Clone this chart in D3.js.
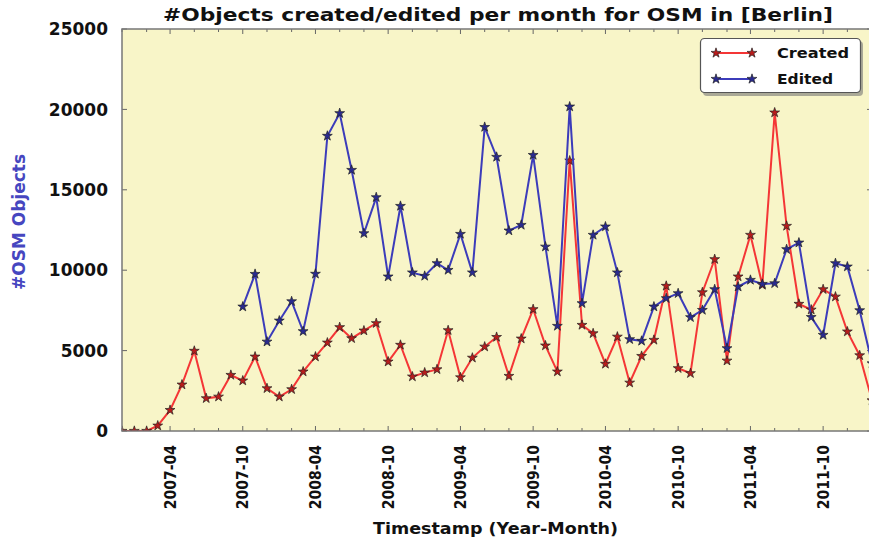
<!DOCTYPE html>
<meta charset="utf-8">
<style>
body { margin: 0; background: #fff; }
text { font-family: "DejaVu Sans", sans-serif; font-weight: bold; fill: #111; }
</style>
<svg width="869" height="543"></svg>
<script src="https://d3js.org/d3.v7.min.js"></script>
<script>

var firstMonth = "2006-12",
    lastMonth = "2012-02";

// monthly counts, 2006-12 .. 2012-02
var created = [0,
    0, 0, 330, 1300, 2880, 4980, 2030, 2130, 3480, 3130, 4620, 2650,
    2130, 2590, 3690, 4620, 5490, 6450, 5760, 6240, 6700, 4310, 5350, 3380,
    3630, 3830, 6260, 3330, 4550, 5240, 5840, 3420, 5740, 7570, 5310, 3690,
    16810, 6590, 6070, 4170, 5860, 3000, 4660, 5660, 9020, 3900, 3590, 8620,
    10680, 4370, 9600, 12190, 9080, 19800, 12750, 7900, 7540, 8810, 8350, 6180,
    4700, 1900];

var edited = [null,
    null, null, null, null, null, null, null, null, null, 7730, 9760, 5550,
    6860, 8060, 6200, 9770, 18350, 19760, 16230, 12290, 14530, 9600, 13990, 9850,
    9640, 10430, 10010, 12250, 9850, 18900, 17040, 12460, 12810, 17160, 11460, 6530,
    20170, 7940, 12190, 12710, 9850, 5700, 5600, 7730, 8250, 8560, 7070, 7520,
    8810, 5140, 8970, 9390, 9140, 9180, 11300, 11710, 7080, 5970, 10430, 10220,
    7500, 4200];

var yTicks = [0, 5000, 10000, 15000, 20000, 25000];
var xLabels = ["2007-04", "2007-10", "2008-04", "2008-10", "2009-04",
               "2009-10", "2010-04", "2010-10", "2011-04", "2011-10"];

var series = [
  {name: "Created", values: created, color: "#f43636", marker: "#b81c1c"},
  {name: "Edited",  values: edited,  color: "#3c3cba", marker: "#2a2a90"}
];

var svg = d3.select("svg");
var plotL = 122, plotR = 872, plotT = 29, plotB = 431;

var parseMonth = d3.utcParse("%Y-%m");
var months = d3.utcMonth.range(parseMonth(firstMonth),
                               d3.utcMonth.offset(parseMonth(lastMonth), 1));

var x = d3.scaleUtc()
    .domain([parseMonth(firstMonth), parseMonth(lastMonth)])
    .range([plotL, plotR]);
var y = d3.scaleLinear().domain([0, 25000]).range([plotB, plotT]);

svg.append("defs").append("clipPath").attr("id", "clip")
  .append("rect")
    .attr("x", plotL).attr("y", plotT)
    .attr("width", plotR - plotL).attr("height", plotB - plotT);

svg.append("rect")
    .attr("x", plotL).attr("y", plotT)
    .attr("width", plotR - plotL).attr("height", plotB - plotT)
    .attr("fill", "#f8f5c8");

// ticks, all pointing inward
var minor = months.filter(function(d) { return d.getUTCMonth() % 2 === 1; });
var ticks = svg.append("g").attr("stroke", "#666").attr("stroke-width", 1);

minor.forEach(function(d) {
  var isMajor = d.getUTCMonth() === 3 || d.getUTCMonth() === 9;
  var len = isMajor ? 5 : 3;
  ticks.append("line").attr("x1", x(d)).attr("x2", x(d))
      .attr("y1", plotB).attr("y2", plotB - len);
  ticks.append("line").attr("x1", x(d)).attr("x2", x(d))
      .attr("y1", plotT).attr("y2", plotT + len);
});
yTicks.forEach(function(v) {
  ticks.append("line").attr("x1", plotL).attr("x2", plotL + 5)
      .attr("y1", y(v)).attr("y2", y(v));
  ticks.append("line").attr("x1", plotR).attr("x2", plotR - 5)
      .attr("y1", y(v)).attr("y2", y(v));
});

// lines and star markers
var line = d3.line()
    .defined(function(d) { return d != null; })
    .x(function(d, i) { return x(months[i]); })
    .y(function(d) { return y(d); });

var star = d3.symbol().type(d3.symbolStar).size(30);

var plot = svg.append("g").attr("clip-path", "url(#clip)");

series.forEach(function(s) {
  plot.append("path")
      .attr("d", line(s.values))
      .attr("fill", "none")
      .attr("stroke", s.color)
      .attr("stroke-width", 2);
  plot.selectAll(null)
      .data(s.values.map(function(v, i) { return {v: v, m: months[i]}; })
                    .filter(function(d) { return d.v != null; }))
    .enter().append("path")
      .attr("d", star)
      .attr("transform", function(d) { return "translate(" + x(d.m) + "," + y(d.v) + ")"; })
      .attr("fill", s.marker)
      .attr("stroke", "#222")
      .attr("stroke-width", 0.7);
});

// frame
svg.append("rect")
    .attr("x", plotL).attr("y", plotT)
    .attr("width", plotR - plotL).attr("height", plotB - plotT)
    .attr("fill", "none").attr("stroke", "#777").attr("stroke-width", 1.5);

// y tick labels
svg.selectAll(".ylab").data(yTicks).enter().append("text")
    .attr("x", 108)
    .attr("y", function(d) { return y(d); })
    .attr("dy", "0.36em")
    .attr("text-anchor", "end")
    .style("font-size", "17px")
    .text(function(d) { return d; });

// x tick labels, rotated
svg.selectAll(".xlab").data(xLabels).enter().append("text")
    .attr("transform", function(d) { return "translate(" + (x(parseMonth(d)) + 5.5) + ",445) rotate(-90) scale(1,1.15)"; })
    .attr("text-anchor", "end")
    .style("font-size", "14px")
    .text(function(d) { return d; });

// titles
svg.append("text")
    .attr("x", 163).attr("y", 21)
    .attr("textLength", 670).attr("lengthAdjust", "spacingAndGlyphs")
    .style("font-size", "18px")
    .text("#Objects created/edited per month for OSM in [Berlin]");

svg.append("text")
    .attr("x", 373).attr("y", 534)
    .attr("textLength", 245).attr("lengthAdjust", "spacingAndGlyphs")
    .style("font-size", "15px")
    .text("Timestamp (Year-Month)");

svg.append("text")
    .attr("transform", "translate(25,222) rotate(-90)")
    .attr("text-anchor", "middle")
    .style("font-size", "17px")
    .style("fill", "#4646c0")
    .text("#OSM Objects");

// legend
var legend = svg.append("g");
legend.append("rect")
    .attr("x", 703).attr("y", 41).attr("width", 160).attr("height", 55)
    .attr("rx", 4).attr("fill", "#777").attr("opacity", 0.6);
legend.append("rect")
    .attr("x", 700.5).attr("y", 38.5).attr("width", 160).attr("height", 54)
    .attr("rx", 4).attr("fill", "#fff").attr("stroke", "#555").attr("stroke-width", 1.2);

var legendText = [72, 56];
series.forEach(function(s, i) {
  var ly = 53 + i * 26;
  legend.append("line")
      .attr("x1", 716).attr("x2", 752).attr("y1", ly).attr("y2", ly)
      .attr("stroke", s.color).attr("stroke-width", 2);
  [716, 752].forEach(function(lx) {
    legend.append("path").attr("d", star)
        .attr("transform", "translate(" + lx + "," + ly + ")")
        .attr("fill", s.marker).attr("stroke", "#222").attr("stroke-width", 0.7);
  });
  legend.append("text")
      .attr("x", 777).attr("y", ly).attr("dy", "0.36em")
      .attr("textLength", legendText[i]).attr("lengthAdjust", "spacingAndGlyphs")
      .style("font-size", "14px")
      .text(s.name);
});

</script>
